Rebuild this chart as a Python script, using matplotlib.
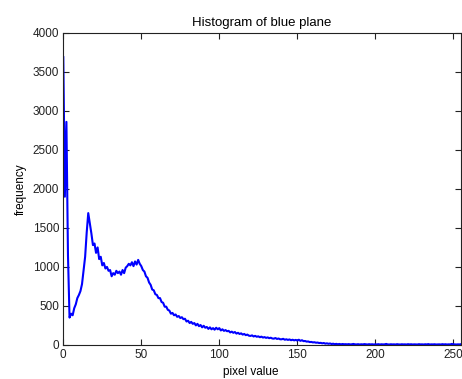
import matplotlib
matplotlib.use("Agg")
import matplotlib.pyplot as plt
import numpy as np

# histogram counts for pixel values 0..255
counts = [
    3690, 1900, 2860, 1150, 350, 400, 380, 470, 520, 600,
    640, 690, 780, 950, 1130, 1440, 1690, 1560, 1430, 1280,
    1300, 1180, 1250, 1100, 1130, 1020, 1050, 980, 1000, 950,
    960, 880, 920, 900, 950, 920, 940, 900, 960, 920,
    990, 1010, 1040, 1020, 1060, 1010, 1070, 1030, 1090, 1040,
    1010, 960, 940, 880, 860, 800, 770, 710, 700, 650,
    640, 600, 600, 550, 540, 490, 490, 450, 440, 400,
    410, 380, 390, 360, 370, 345, 355, 330, 335, 300,
    310, 280, 295, 270, 280, 250, 270, 240, 255, 225,
    245, 220, 230, 205, 225, 200, 215, 195, 220, 200,
    215, 185, 200, 180, 190, 175, 180, 160, 170, 155,
    165, 145, 155, 140, 148, 132, 140, 125, 132, 118,
    115, 122, 108, 116, 104, 110, 98, 106, 94, 100,
    90, 96, 86, 92, 82, 80, 88, 76, 82, 72,
    72, 78, 66, 72, 64, 70, 60, 66, 58, 64,
    56, 66, 52, 60, 48, 50, 42, 44, 36, 38,
    32, 34, 28, 30, 24, 26, 20, 24, 16, 20,
    14, 18, 11, 15, 9, 13, 8, 12, 7, 11,
    8, 9, 7, 10, 6, 8, 12, 7, 6, 9,
    5, 8, 6, 10, 7, 5, 9, 6, 8, 5,
    7, 6, 9, 5, 8, 6, 7, 12, 6, 5,
    8, 6, 7, 5, 9, 6, 5, 8, 6, 7,
    5, 9, 6, 8, 5, 7, 6, 5, 9, 6,
    7, 5, 8, 6, 10, 5, 7, 6, 8, 5,
    6, 7, 5, 9, 6, 8, 5, 7, 6, 12,
    8, 6, 5, 7, 6, 9,
]
pixel = np.arange(len(counts))

xticks = [0, 50, 100, 150, 200, 250]
yticks = [0, 500, 1000, 1500, 2000, 2500, 3000, 3500, 4000]

plt.rcParams['font.family'] = ['Liberation Sans', 'DejaVu Sans']

fig = plt.figure(figsize=(4.62, 3.79), dpi=100)
ax = fig.add_axes([0.137, 0.090, 0.861, 0.823])
ax.plot(pixel, counts, color=(0, 0, 1), linewidth=1.5)

ax.set_xlim(0, 255)
ax.set_ylim(0, 4000)
ax.set_xticks(xticks)
ax.set_yticks(yticks)
ax.tick_params(direction='in', top=True, right=True, length=4, width=0.8,
               labelsize=8.5, colors='#222222', pad=3)
for s in ax.spines.values():
    s.set_linewidth(0.8)
    s.set_color('#222222')

ax.set_title('Histogram of blue plane', fontsize=9.5, pad=5)
ax.set_xlabel('pixel value', fontsize=8.5)
ax.xaxis.set_label_coords(0.472, -0.068)
ax.set_ylabel('frequency', fontsize=8.5, labelpad=4)

fig.savefig('out.png', dpi=100)
